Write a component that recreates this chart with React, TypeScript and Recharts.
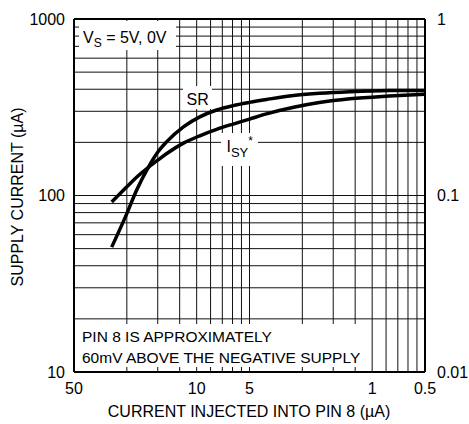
import React from 'react';
import { LineChart, Line, XAxis, YAxis, ReferenceLine } from 'recharts';

// injected current (uA) left to right
const injectedCurrent = [30.5, 25, 22, 18.9, 16.6, 14.8, 11.9, 9.6, 7.7, 6.2, 5, 4, 2.8, 2, 1.34, 0.8, 0.5];
// SR curve (left scale, uA)
const srValues = [51, 79, 107, 144, 177, 202, 245, 279, 305, 323, 337, 350, 369, 379, 387, 393, 394];
// I_SY curve (left scale, uA)
const isyValues = [92, 112, 127, 144, 159, 173, 198, 218, 237, 254, 271, 290, 316, 336, 353, 366, 375];

const xTicks = [50, 10, 5, 1, 0.5];
const yLeftTicks = [10, 100, 1000];
const yRightTicks = [0.01, 0.1, 1];

// log grid, x axis runs backwards from 50 down to 0.5
const xGrid = [25, 16.667, 12.5, 10, 8.333, 7.143, 6.25, 5.556, 5, 2.5, 1.667, 1.25, 1, 0.8333, 0.7143, 0.625, 0.5556];
const yGrid = [20, 30, 40, 50, 60, 70, 80, 90, 100, 200, 300, 400, 500, 600, 700, 800, 900];

const data = injectedCurrent.map((x, i) => ({ x, sr: srValues[i], isy: isyValues[i] }));

const FONT = '"Liberation Sans", Arial, sans-serif';
const tickStyle = { fill: '#000', fontSize: 16, fontFamily: FONT };

const App: React.FC = () => {
  return (
    <div style={{ position: 'absolute', left: 0, top: 0, width: 469, height: 424, background: '#fff', fontFamily: FONT }}>
      <LineChart width={469} height={424} data={data} margin={{ top: 19, right: 4, bottom: 22, left: 24 }}>
        <XAxis
          dataKey="x"
          type="number"
          scale="log"
          domain={[0.5, 50]}
          reversed
          allowDataOverflow
          ticks={xTicks}
          tickFormatter={(v) => String(v)}
          axisLine={false}
          tickLine={false}
          tickMargin={5}
          tick={tickStyle}
          height={30}
        />
        <YAxis
          yAxisId="left"
          type="number"
          scale="log"
          domain={[10, 1000]}
          allowDataOverflow
          ticks={yLeftTicks}
          tickFormatter={(v) => String(v)}
          axisLine={false}
          tickLine={false}
          tickMargin={3}
          tick={tickStyle}
          width={50}
        />
        <YAxis
          yAxisId="right"
          orientation="right"
          type="number"
          scale="log"
          domain={[0.01, 1]}
          allowDataOverflow
          ticks={yRightTicks}
          tickFormatter={(v) => String(v)}
          axisLine={false}
          tickLine={false}
          tickMargin={6}
          tick={{ ...tickStyle, textAnchor: 'start' }}
          width={40}
        />

        {xGrid.map((v) => (
          <ReferenceLine key={'gx' + v} x={v} yAxisId="left" stroke="#111" strokeWidth={1} />
        ))}
        {yGrid.map((v) => (
          <ReferenceLine key={'gy' + v} y={v} yAxisId="left" stroke="#111" strokeWidth={1} />
        ))}

        {/* frame */}
        <ReferenceLine x={50} yAxisId="left" stroke="#000" strokeWidth={2} />
        <ReferenceLine x={0.5} yAxisId="left" stroke="#000" strokeWidth={2} />
        <ReferenceLine y={10} yAxisId="left" stroke="#000" strokeWidth={2} />
        <ReferenceLine y={1000} yAxisId="left" stroke="#000" strokeWidth={2} />

        <Line yAxisId="left" type="monotone" dataKey="sr" stroke="#000" strokeWidth={3.5} dot={false} isAnimationActive={false} />
        <Line yAxisId="left" type="monotone" dataKey="isy" stroke="#000" strokeWidth={3.5} dot={false} isAnimationActive={false} />
      </LineChart>

      {/* annotations and axis titles */}
      <svg width={469} height={424} style={{ position: 'absolute', left: 0, top: 0, pointerEvents: 'none' }} fontFamily={FONT}>
        <rect x={79} y={21} width={97} height={29} fill="#fff" />
        <text x={83} y={43} fontSize={16} fill="#000">
          V<tspan fontSize={12} dy={4}>S</tspan>
          <tspan dy={-4}> = 5V, 0V</tspan>
        </text>

        <rect x={183} y={86} width={29} height={23} fill="#fff" />
        <text x={186.5} y={105} fontSize={16} fill="#000">SR</text>

        <rect x={221} y={133} width={37} height={33} fill="#fff" />
        <text x={226.5} y={152} fontSize={16} fill="#000">
          I<tspan fontSize={13} dy={5}>SY</tspan>
          <tspan fontSize={12} dy={-12}>*</tspan>
        </text>

        <rect x={76} y={324} width={290} height={43} fill="#fff" />
        <text x={82} y={341.7} fontSize={15.5} fill="#000">PIN 8 IS APPROXIMATELY</text>
        <text x={82} y={363.3} fontSize={15.5} fill="#000">60mV ABOVE THE NEGATIVE SUPPLY</text>

        <text x={249} y={417} fontSize={16} fill="#000" textAnchor="middle">CURRENT INJECTED INTO PIN 8 (µA)</text>
        <text x={23} y={197} fontSize={16} fill="#000" textAnchor="middle" transform="rotate(-90 23 197)">
          SUPPLY CURRENT (µA)
        </text>
      </svg>
    </div>
  );
};

export default App;
